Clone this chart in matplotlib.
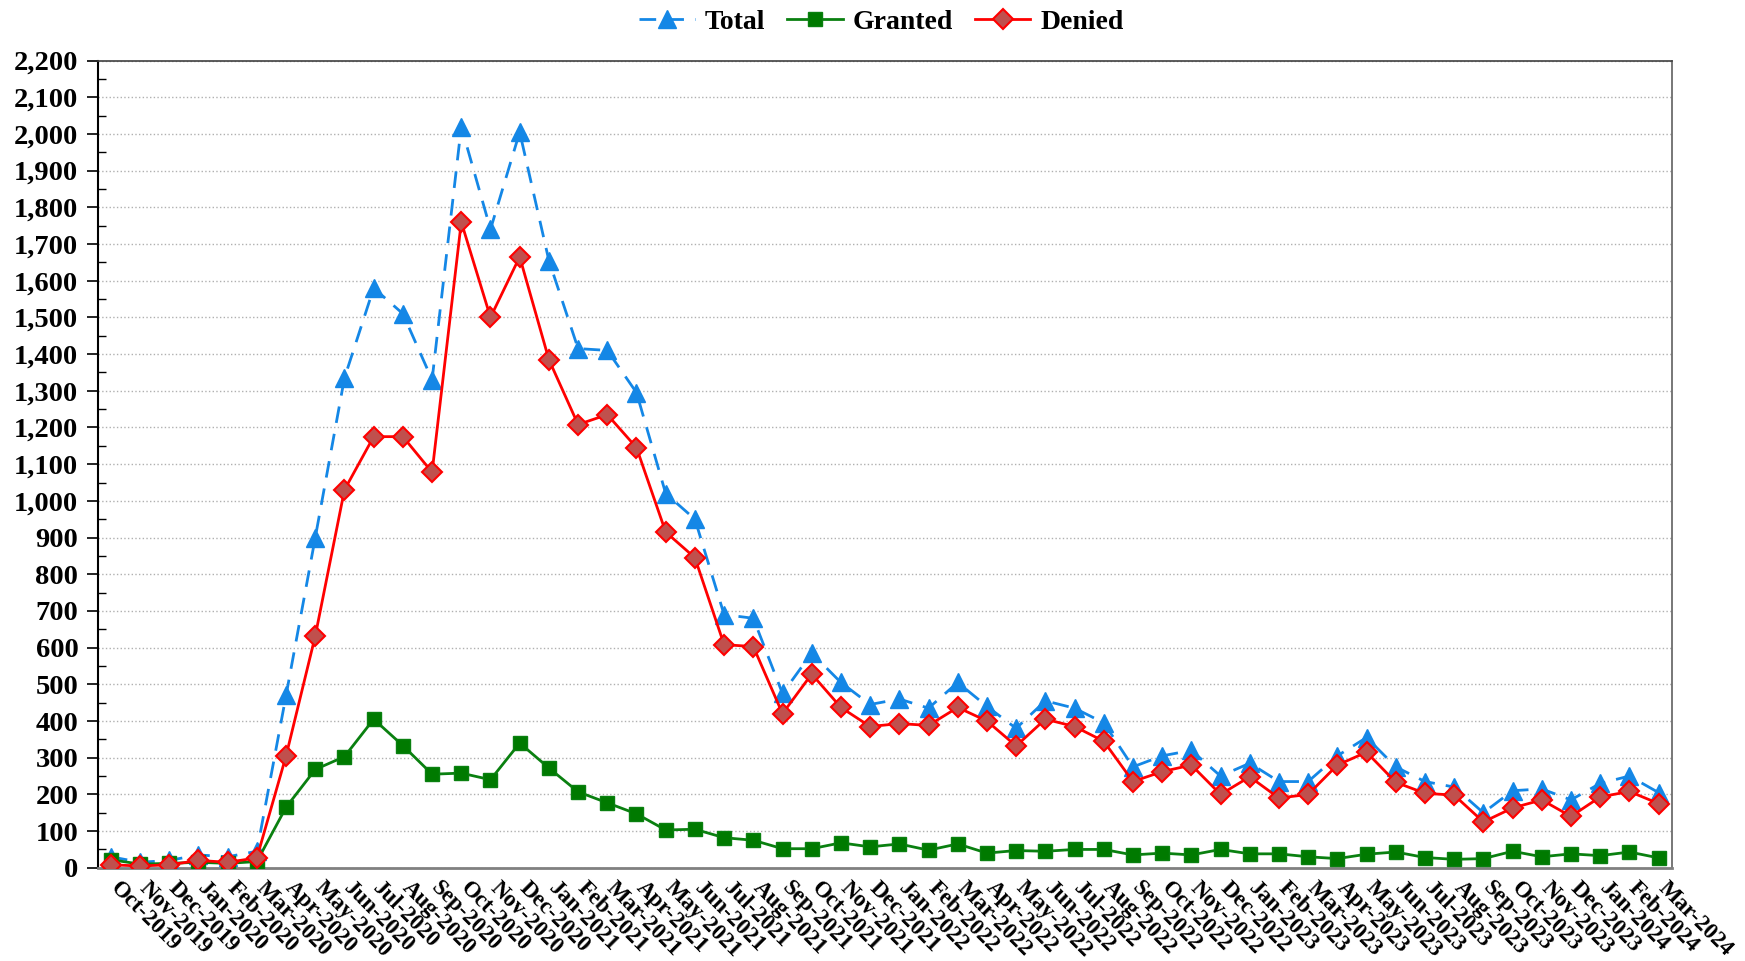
import matplotlib
matplotlib.use("Agg")
import matplotlib.pyplot as plt
import matplotlib.transforms as mtransforms
from matplotlib.ticker import MultipleLocator, FuncFormatter

# Месяцы Oct-2019 .. Mar-2024
months = ['Oct-2019', 'Nov-2019', 'Dec-2019',
          'Jan-2020', 'Feb-2020', 'Mar-2020', 'Apr-2020', 'May-2020', 'Jun-2020',
          'Jul-2020', 'Aug-2020', 'Sep-2020', 'Oct-2020', 'Nov-2020', 'Dec-2020',
          'Jan-2021', 'Feb-2021', 'Mar-2021', 'Apr-2021', 'May-2021', 'Jun-2021',
          'Jul-2021', 'Aug-2021', 'Sep-2021', 'Oct-2021', 'Nov-2021', 'Dec-2021',
          'Jan-2022', 'Feb-2022', 'Mar-2022', 'Apr-2022', 'May-2022', 'Jun-2022',
          'Jul-2022', 'Aug-2022', 'Sep-2022', 'Oct-2022', 'Nov-2022', 'Dec-2022',
          'Jan-2023', 'Feb-2023', 'Mar-2023', 'Apr-2023', 'May-2023', 'Jun-2023',
          'Jul-2023', 'Aug-2023', 'Sep-2023', 'Oct-2023', 'Nov-2023', 'Dec-2023',
          'Jan-2024', 'Feb-2024', 'Mar-2024']

total = [30, 15, 20, 35, 30, 45, 470, 900, 1335, 1580, 1510, 1330, 2020, 1740, 2005,
         1655, 1415, 1410, 1295, 1020, 950, 690, 680, 475, 585, 505, 445,
         460, 435, 505, 440, 380, 455, 435, 395, 275, 305, 320, 250,
         285, 235, 235, 305, 355, 275, 235, 220, 150, 210, 215, 185,
         230, 250, 205]

granted = [22, 10, 12, 15, 12, 17, 165, 268, 303, 405, 333, 255, 258, 240, 340,
           272, 207, 177, 147, 103, 105, 82, 75, 52, 52, 68, 57,
           65, 48, 65, 40, 47, 45, 50, 50, 35, 40, 35, 50,
           38, 38, 30, 25, 37, 43, 28, 23, 25, 45, 30, 38,
           33, 43, 27]

denied = [8, 5, 8, 20, 15, 27, 305, 632, 1030, 1175, 1175, 1078, 1760, 1500, 1665,
          1385, 1208, 1235, 1145, 915, 845, 608, 603, 420, 528, 437, 385,
          393, 388, 437, 400, 332, 405, 385, 345, 235, 262, 280, 200,
          248, 190, 200, 280, 315, 233, 203, 198, 125, 163, 185, 140,
          193, 208, 175]

plt.rcParams['font.family'] = ['Liberation Serif', 'DejaVu Serif']
plt.rcParams['font.weight'] = 'bold'

fig = plt.figure(figsize=(17.45, 9.61), dpi=100)
ax = fig.add_axes([0.056, 0.097, 0.902, 0.84])

x = list(range(len(months)))
ax.plot(x, total, color='#1487E6', linestyle=(0, (6, 4)), linewidth=2,
        marker='^', markersize=13, markeredgecolor='#1487E6', label='Total', zorder=3)
ax.plot(x, granted, color='#0A8010', linewidth=2,
        marker='s', markersize=10, markerfacecolor='#007A00', markeredgecolor='#0A8010',
        label='Granted', zorder=3)
ax.plot(x, denied, color='#FF0000', linewidth=2,
        marker='D', markersize=10, markerfacecolor='#C0504D', markeredgecolor='#FF0000',
        markeredgewidth=1.5, label='Denied', zorder=4)

ax.set_xlim(-0.45, len(months) - 0.55)
ax.set_ylim(0, 2200)
ax.yaxis.set_major_locator(MultipleLocator(100))
ax.yaxis.set_minor_locator(MultipleLocator(50))
ax.yaxis.set_major_formatter(FuncFormatter(lambda v, p: f'{int(v):,}'))
ax.grid(axis='y', which='major', color='#B0B0B0', linestyle=':', linewidth=1)
ax.set_axisbelow(True)

ax.set_xticks(x)
ax.set_xticklabels(months, rotation=-45, ha='left', va='top', rotation_mode='anchor',
                   fontsize=16.5, fontweight='bold')
ax.tick_params(axis='x', length=0, pad=7)
# сдвиг подписей оси X чуть вправо
shift = mtransforms.ScaledTranslation(10 / 100, 0, fig.dpi_scale_trans)
for lbl in ax.get_xticklabels():
    lbl.set_transform(lbl.get_transform() + shift)

ax.tick_params(axis='y', which='major', direction='out', length=8, width=1.2,
               labelsize=20.5, pad=6)
ax.tick_params(axis='y', which='minor', direction='in', length=6, width=1)

ax.spines['left'].set_color('black')
ax.spines['left'].set_linewidth(1.5)
ax.spines['bottom'].set_color('#808080')
ax.spines['bottom'].set_linewidth(2)
ax.spines['top'].set_color('#404040')
ax.spines['top'].set_linewidth(1.2)
ax.spines['right'].set_color('#606060')
ax.spines['right'].set_linewidth(1.2)

fig.legend(loc='upper center', bbox_to_anchor=(0.505, 1.016), ncol=3, frameon=False,
           prop={'size': 20, 'weight': 'bold'}, handlelength=2.0, columnspacing=0.8,
           handletextpad=0.35)

fig.savefig('out.png', dpi=100)
